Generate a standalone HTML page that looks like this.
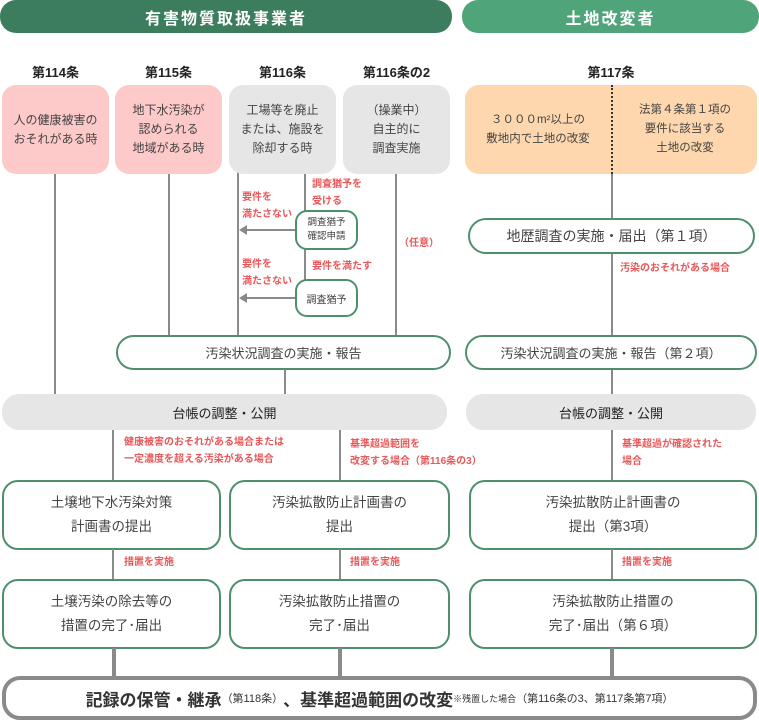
<!DOCTYPE html>
<html><head><meta charset="utf-8"><style>
*{margin:0;padding:0;box-sizing:border-box}
body{width:759px;height:721px;background:#fff;position:relative;overflow:hidden;font-family:"Liberation Sans","Noto Sans CJK JP",sans-serif;color:#333}
.a{position:absolute}
.c{display:flex;align-items:center;justify-content:center;text-align:center}
.hd{color:#fff;font-size:16px;font-weight:bold;letter-spacing:2px;border-radius:16px}
.lb{font-size:13px;font-weight:bold;color:#222;text-align:center}
.bx{border-radius:14px;font-size:12px;line-height:19px;color:#444}
.v{position:absolute;width:2px;background:#8a8a8a}
.h{position:absolute;height:2px;background:#8a8a8a}
.g{border:2px solid #4f8f6e;background:#fff;border-radius:16px;color:#444}
.r{position:absolute;color:#e8585a;font-size:10px;font-weight:bold;line-height:17px}
.gp{background:#e6e6e6;border-radius:17px;font-size:13px;color:#222}
</style></head><body>
<div class="a c hd" style="left:0;top:0;width:452px;height:33px;background:#3b7d5c">有害物質取扱事業者</div>
<div class="a c hd" style="left:462px;top:0;width:297px;height:33px;background:#50a47a">土地改変者</div>

<div class="a lb" style="left:2px;top:62px;width:107px">第114条</div>
<div class="a lb" style="left:115px;top:62px;width:107px">第115条</div>
<div class="a lb" style="left:229px;top:62px;width:107px">第116条</div>
<div class="a lb" style="left:343px;top:62px;width:107px">第116条の2</div>
<div class="a lb" style="left:465px;top:62px;width:292px">第117条</div>

<div class="v" style="left:54px;top:170px;height:226px"></div>
<div class="v" style="left:168px;top:170px;height:166px"></div>
<div class="v" style="left:237px;top:170px;height:166px"></div>
<div class="v" style="left:304px;top:170px;height:112px"></div>
<div class="v" style="left:395px;top:170px;height:166px"></div>
<div class="v" style="left:611px;top:170px;height:50px"></div>
<div class="v" style="left:611px;top:252px;height:84px"></div>
<div class="v" style="left:611px;top:368px;height:28px"></div>
<div class="v" style="left:284px;top:368px;height:28px"></div>

<div class="a c bx" style="left:2px;top:85px;width:107px;height:89px;background:#fdc9c9">人の健康被害の<br>おそれがある時</div>
<div class="a c bx" style="left:115px;top:85px;width:107px;height:89px;background:#fdc9c9">地下水汚染が<br>認められる<br>地域がある時</div>
<div class="a c bx" style="left:229px;top:85px;width:107px;height:89px;background:#e6e6e6">工場等を廃止<br>または、施設を<br>除却する時</div>
<div class="a c bx" style="left:343px;top:85px;width:107px;height:89px;background:#e6e6e6">（操業中）<br>自主的に<br>調査実施</div>
<div class="a" style="left:465px;top:85px;width:292px;height:89px;background:#fed7ae;border-radius:14px"></div>
<div class="a" style="left:611px;top:85px;height:89px;border-left:2px dotted #333"></div>
<div class="a c bx" style="left:465px;top:85px;width:146px;height:89px;font-size:11.5px">３０００m²以上の<br>敷地内で土地の改変</div>
<div class="a c bx" style="left:613px;top:85px;width:144px;height:89px;font-size:11.5px">法第４条第１項の<br>要件に該当する<br>土地の改変</div>

<div class="h" style="left:246px;top:229px;width:50px"></div>
<div class="a" style="left:239px;top:225px;border-right:8px solid #8a8a8a;border-top:5px solid transparent;border-bottom:5px solid transparent"></div>
<div class="h" style="left:246px;top:297px;width:50px"></div>
<div class="a" style="left:239px;top:293px;border-right:8px solid #8a8a8a;border-top:5px solid transparent;border-bottom:5px solid transparent"></div>
<div class="a c g" style="left:295px;top:210px;width:63px;height:40px;border-radius:12px;font-size:9.5px;line-height:14px">調査猶予<br>確認申請</div>
<div class="a c g" style="left:295px;top:279px;width:63px;height:38px;border-radius:12px;font-size:10px">調査猶予</div>
<div class="r" style="left:242px;top:189px">要件を<br>満たさない</div>
<div class="r" style="left:312px;top:176px">調査猶予を<br>受ける</div>
<div class="r" style="left:242px;top:256px">要件を<br>満たさない</div>
<div class="r" style="left:312px;top:258px">要件を満たす</div>
<div class="r" style="left:399px;top:235px">（任意）</div>

<div class="a c g" style="left:468px;top:218px;width:287px;height:36px;border-radius:18px;font-size:14px">地歴調査の実施・届出（第１項）</div>
<div class="r" style="left:620px;top:260px">汚染のおそれがある場合</div>

<div class="a c g" style="left:116px;top:335px;width:335px;height:35px;border-radius:18px;font-size:13px">汚染状況調査の実施・報告</div>
<div class="a c g" style="left:465px;top:335px;width:292px;height:35px;border-radius:18px;font-size:13px">汚染状況調査の実施・報告（第２項）</div>

<div class="a c gp" style="left:2px;top:394px;width:445px;height:36px">台帳の調整・公開</div>
<div class="a c gp" style="left:466px;top:394px;width:290px;height:36px">台帳の調整・公開</div>

<div class="v" style="left:112px;top:430px;height:51px"></div>
<div class="v" style="left:339px;top:430px;height:51px"></div>
<div class="v" style="left:611px;top:430px;height:51px"></div>
<div class="r" style="left:124px;top:434px">健康被害のおそれがある場合または<br>一定濃度を超える汚染がある場合</div>
<div class="r" style="left:350px;top:436px">基準超過範囲を<br>改変する場合（第116条の3）</div>
<div class="r" style="left:622px;top:436px">基準超過が確認された<br>場合</div>

<div class="a c g" style="left:2px;top:480px;width:219px;height:70px;font-size:13.5px;line-height:24px">土壌地下水汚染対策<br>計画書の提出</div>
<div class="a c g" style="left:229px;top:480px;width:221px;height:70px;font-size:13.5px;line-height:24px">汚染拡散防止計画書の<br>提出</div>
<div class="a c g" style="left:469px;top:480px;width:288px;height:70px;font-size:13.5px;line-height:24px">汚染拡散防止計画書の<br>提出（第3項）</div>

<div class="v" style="left:112px;top:549px;height:31px"></div>
<div class="v" style="left:339px;top:549px;height:31px"></div>
<div class="v" style="left:611px;top:549px;height:31px"></div>
<div class="r" style="left:124px;top:554px">措置を実施</div>
<div class="r" style="left:350px;top:554px">措置を実施</div>
<div class="r" style="left:622px;top:554px">措置を実施</div>

<div class="a c g" style="left:2px;top:579px;width:219px;height:70px;font-size:13.5px;line-height:24px">土壌汚染の除去等の<br>措置の完了･届出</div>
<div class="a c g" style="left:229px;top:579px;width:221px;height:70px;font-size:13.5px;line-height:24px">汚染拡散防止措置の<br>完了･届出</div>
<div class="a c g" style="left:469px;top:579px;width:288px;height:70px;font-size:13.5px;line-height:24px">汚染拡散防止措置の<br>完了･届出（第６項）</div>

<div class="a" style="left:112px;top:648px;width:4px;height:31px;background:#8a8a8a"></div>
<div class="a" style="left:338px;top:648px;width:4px;height:31px;background:#8a8a8a"></div>
<div class="a" style="left:610px;top:648px;width:4px;height:31px;background:#8a8a8a"></div>

<div class="a c" style="left:2px;top:676px;width:755px;height:44px;border:4px solid #8a8a8a;border-radius:18px;background:#fff;white-space:nowrap;color:#333">
<span style="font-size:17px;font-weight:bold">記録の保管・継承</span><span style="font-size:11px">（第118条）</span><span style="font-size:17px;font-weight:bold">、基準超過範囲の改変</span><span style="font-size:9px">※残置した場合</span><span style="font-size:11px">（第116条の3、第117条第7項）</span></div>
</body></html>
